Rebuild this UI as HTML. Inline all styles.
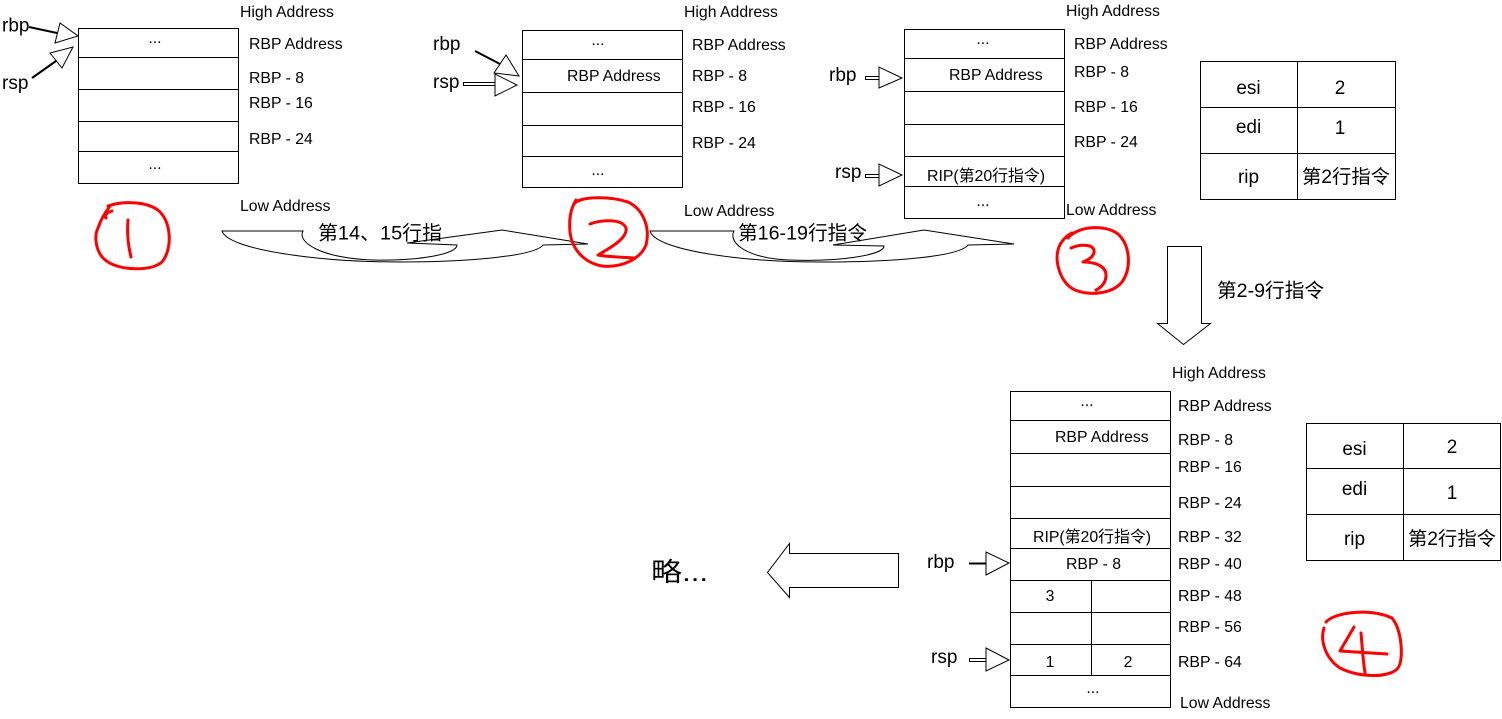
<!DOCTYPE html>
<html><head><meta charset="utf-8"><style>
html,body{margin:0;padding:0;background:#fff;}
svg{display:block;}
text{font-family:"Liberation Sans","Noto Sans CJK SC",sans-serif;fill:#000;}
.l{font-size:15.8px;}
.r{font-size:19px;}
.t{font-size:19px;}
.c{font-size:19.5px;}
</style></head><body>
<svg width="1502" height="719" viewBox="0 0 1502 719" xmlns="http://www.w3.org/2000/svg">
<g fill="none" stroke="#000" stroke-width="1">
<!-- stack 1 -->
<rect x="78.5" y="28.5" width="160" height="155" fill="#fff"/>
<path d="M78.5 57.5H238.5M78.5 89.5H238.5M78.5 121.5H238.5M78.5 151.5H238.5"/>
<!-- stack 2 -->
<rect x="522.5" y="30.5" width="160" height="157" fill="#fff"/>
<path d="M522.5 59.5H682.5M522.5 92.5H682.5M522.5 125.5H682.5M522.5 156.5H682.5"/>
<!-- stack 3 -->
<rect x="904.5" y="29.5" width="160" height="189" fill="#fff"/>
<path d="M904.5 58.5H1064.5M904.5 91.5H1064.5M904.5 124.5H1064.5M904.5 156.5H1064.5M904.5 186.5H1064.5"/>
<!-- table 1 -->
<rect x="1200.5" y="61.5" width="195" height="138"/>
<path d="M1297.5 61.5V199.5M1200.5 107.5H1395.5M1200.5 153.5H1395.5"/>
<!-- stack 4 -->
<rect x="1010.5" y="391.5" width="160" height="316" fill="#fff"/>
<path d="M1010.5 420.5H1170.5M1010.5 453.5H1170.5M1010.5 486.5H1170.5M1010.5 518.5H1170.5M1010.5 548.5H1170.5M1010.5 580.5H1170.5M1010.5 612.5H1170.5M1010.5 644.5H1170.5M1010.5 675.5H1170.5M1091.5 580.5V675.5"/>
<!-- table 2 -->
<rect x="1306.5" y="423.5" width="194" height="137"/>
<path d="M1403.5 423.5V560.5M1306.5 468.5H1500.5M1306.5 514.5H1500.5"/>

<!-- pointer arrows stack 1 -->
<path d="M29 27L57 33" stroke-width="2"/>
<polygon points="60,23 55,43 78,36" fill="#fff"/>
<path d="M32 78L56 61" stroke-width="2"/>
<polygon points="50,53 62,68 73,47" fill="#fff"/>
<!-- stack 2 -->
<path d="M475 51L500 64" stroke-width="2"/>
<polygon points="506,55 494,73 519,76" fill="#fff"/>
<rect x="463.5" y="82.5" width="32" height="3" fill="#fff"/>
<polygon points="495,74 495,96 517,85" fill="#fff"/>
<!-- stack 3 -->
<rect x="865.5" y="76.5" width="14" height="3" fill="#fff"/>
<polygon points="879,67 879,88 902,78" fill="#fff"/>
<rect x="865.5" y="174.5" width="14" height="3" fill="#fff"/>
<polygon points="879,164 879,186 902,175" fill="#fff"/>
<!-- stack 4 -->
<path d="M969 563.5H986" stroke-width="2"/>
<polygon points="986,552 986,575 1009,563" fill="#fff"/>
<rect x="969.5" y="658.5" width="17" height="3" fill="#fff"/>
<polygon points="986,648 986,671 1009,660" fill="#fff"/>

<!-- curved arrows -->
<path d="M222,231 L303,231 C297,242 320,258 373,260 C420,261 457,254 457,245 L407,243 L502,230 L588,244 L543,245 C535,256 470,262 400,262 C320,262 228,250 222,231 Z"/>
<path d="M650,231 L734,231 C728,242 745,258 789,260 C840,262 884,255 884,246 L833,245 L924,230 L1014,244 L968,245 C960,256 900,262 820,262 C740,262 655,250 650,231 Z"/>
<!-- down arrow -->
<polygon points="1167.5,246.5 1201.5,246.5 1201.5,323.5 1210.5,323.5 1183.5,344.5 1157.5,323.5 1167.5,323.5" fill="#fff"/>
<!-- left arrow -->
<polygon points="898.5,553.5 898.5,587.5 789.5,587.5 789.5,597.5 767.5,572.5 789.5,543.5 789.5,553.5" fill="#fff"/>
</g>

<!-- red circles -->
<g fill="none" stroke="#ff0000" stroke-width="3" stroke-linecap="round" stroke-linejoin="round">
<path d="M112,211 C106,213 104,216 106,218"/>
<path d="M108,206 C125,200 150,202 160,212 C172,224 172,250 162,262 C150,272 120,270 108,262 C95,254 94,236 98,228 C100,222 104,214 110,206"/>
<path d="M128,220 C127,232 128,245 131,257"/>
<path d="M574,204 C580,196 610,196 628,202 C645,210 650,230 646,245 C640,260 620,268 602,266 C585,263 572,250 570,232 C569,220 570,210 576,200"/>
<path d="M590,224 C600,220 622,218 626,228 C628,238 610,248 598,255 C608,257 622,257 634,258"/>
<path d="M1068,238 C1078,226 1105,224 1118,234 C1130,245 1132,268 1122,282 C1112,294 1090,296 1075,290 C1060,283 1055,262 1058,250 C1060,242 1066,236 1072,233"/>
<path d="M1071,248 C1080,244 1092,244 1094,250 C1095,256 1088,260 1083,262 C1095,262 1106,266 1106,275 C1106,284 1100,288 1096,290"/>
<path d="M1326,622 C1335,612 1370,608 1392,618 C1402,630 1404,660 1398,668 C1390,678 1360,678 1340,668 C1325,658 1320,640 1324,628"/>
<path d="M1354,627 L1340,651 L1387,654"/>
<path d="M1361,633 C1362,645 1363,660 1365,673"/>
</g>

<!-- stack 1 text -->
<text class="r" x="2" y="31.5">rbp</text>
<text class="r" x="2" y="89">rsp</text>
<text class="l" x="155" y="43" text-anchor="middle">...</text>
<text class="l" x="155" y="169" text-anchor="middle">...</text>
<text class="l" x="240" y="17">High Address</text>
<text class="l" x="249" y="49">RBP Address</text>
<text class="l" x="249" y="83">RBP - 8</text>
<text class="l" x="249" y="108">RBP - 16</text>
<text class="l" x="249" y="144">RBP - 24</text>
<text class="l" x="240" y="211">Low Address</text>

<!-- stack 2 text -->
<text class="r" x="433" y="50">rbp</text>
<text class="r" x="433" y="88">rsp</text>
<text class="l" x="598" y="45" text-anchor="middle">...</text>
<text class="l" x="567" y="81">RBP Address</text>
<text class="l" x="598" y="175" text-anchor="middle">...</text>
<text class="l" x="684" y="17">High Address</text>
<text class="l" x="692" y="50">RBP Address</text>
<text class="l" x="692" y="81">RBP - 8</text>
<text class="l" x="692" y="112">RBP - 16</text>
<text class="l" x="692" y="148">RBP - 24</text>
<text class="l" x="684" y="216">Low Address</text>

<!-- stack 3 text -->
<text class="r" x="829" y="81">rbp</text>
<text class="r" x="835" y="178">rsp</text>
<text class="l" x="983" y="44" text-anchor="middle">...</text>
<text class="l" x="949" y="80">RBP Address</text>
<text class="l" x="927" y="181" textLength="118" lengthAdjust="spacingAndGlyphs">RIP(第20行指令)</text>
<text class="l" x="983" y="206" text-anchor="middle">...</text>
<text class="l" x="1066" y="16">High Address</text>
<text class="l" x="1074" y="49">RBP Address</text>
<text class="l" x="1074" y="77">RBP - 8</text>
<text class="l" x="1074" y="112">RBP - 16</text>
<text class="l" x="1074" y="147">RBP - 24</text>
<text class="l" x="1066" y="215">Low Address</text>

<!-- table 1 text -->
<text class="t" x="1248.5" y="94" text-anchor="middle">esi</text>
<text class="t" x="1340" y="94" text-anchor="middle">2</text>
<text class="t" x="1248.5" y="133" text-anchor="middle">edi</text>
<text class="t" x="1340" y="134" text-anchor="middle">1</text>
<text class="t" x="1248.5" y="183" text-anchor="middle">rip</text>
<text class="t" x="1346" y="183" text-anchor="middle" textLength="88" lengthAdjust="spacingAndGlyphs">第2行指令</text>

<!-- arrow labels -->
<text class="c" x="318" y="239.5" textLength="124" lengthAdjust="spacingAndGlyphs">第14、15行指</text>
<text class="c" x="738" y="239.5" textLength="129" lengthAdjust="spacingAndGlyphs">第16-19行指令</text>
<text class="c" x="1217" y="297" textLength="107" lengthAdjust="spacingAndGlyphs">第2-9行指令</text>

<!-- stack 4 text -->
<text class="r" x="927" y="568">rbp</text>
<text class="r" x="931" y="663">rsp</text>
<text class="l" x="1087" y="406" text-anchor="middle">...</text>
<text class="l" x="1055" y="442">RBP Address</text>
<text class="l" x="1033" y="542" textLength="118" lengthAdjust="spacingAndGlyphs">RIP(第20行指令)</text>
<text class="l" x="1066" y="569">RBP - 8</text>
<text class="l" x="1050" y="601" text-anchor="middle">3</text>
<text class="l" x="1050" y="667" text-anchor="middle">1</text>
<text class="l" x="1128" y="667" text-anchor="middle">2</text>
<text class="l" x="1093" y="693" text-anchor="middle">...</text>
<text class="l" x="1172" y="378">High Address</text>
<text class="l" x="1178" y="411">RBP Address</text>
<text class="l" x="1178" y="445">RBP - 8</text>
<text class="l" x="1178" y="472">RBP - 16</text>
<text class="l" x="1178" y="508">RBP - 24</text>
<text class="l" x="1178" y="542">RBP - 32</text>
<text class="l" x="1178" y="569">RBP - 40</text>
<text class="l" x="1178" y="601">RBP - 48</text>
<text class="l" x="1178" y="632">RBP - 56</text>
<text class="l" x="1178" y="667">RBP - 64</text>
<text class="l" x="1180" y="708">Low Address</text>

<!-- table 2 text -->
<text class="t" x="1354.5" y="455" text-anchor="middle">esi</text>
<text class="t" x="1452" y="453" text-anchor="middle">2</text>
<text class="t" x="1354.5" y="495" text-anchor="middle">edi</text>
<text class="t" x="1452" y="499" text-anchor="middle">1</text>
<text class="t" x="1354.5" y="545" text-anchor="middle">rip</text>
<text class="t" x="1452" y="545" text-anchor="middle" textLength="88" lengthAdjust="spacingAndGlyphs">第2行指令</text>

<!-- 略 -->
<text x="651" y="581" style="font-size:26px" textLength="57" lengthAdjust="spacingAndGlyphs">略...</text>
</svg>
</body></html>
